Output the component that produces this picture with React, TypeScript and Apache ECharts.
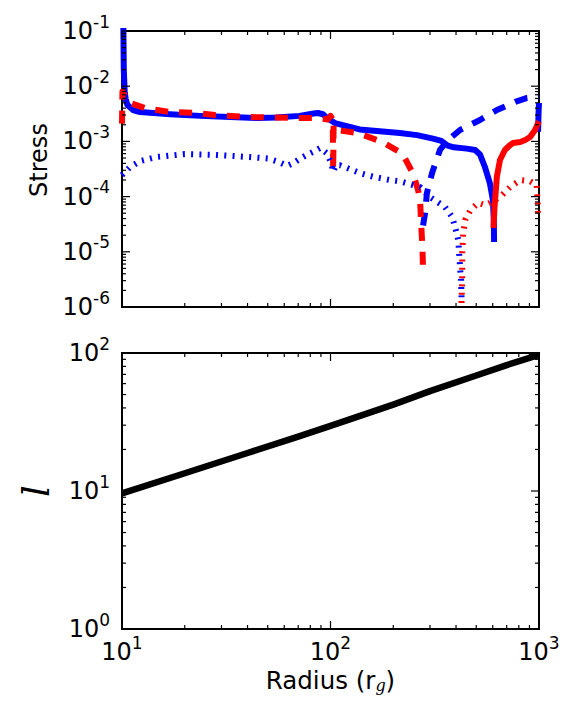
import React, { useEffect, useRef } from "react";
import * as echarts from "echarts";

// ---- data ----
const blueSolid: [number, number | null][] = [
  [10.15, 0.12], [10.2, 0.02], [10.3, 8e-3], [10.4, 6e-3], [10.6, 4.6e-3], [11.3, 3.7e-3],
  [12.2, 3.4e-3], [17, 3.1e-3], [23.7, 2.9e-3], [33, 2.76e-3], [45, 2.65e-3], [55, 2.7e-3],
  [71, 2.9e-3], [83, 3.2e-3], [87, 3.27e-3], [92, 3.1e-3], [97, 2.6e-3], [105, 2.15e-3],
  [138, 1.65e-3], [215, 1.42e-3], [260, 1.3e-3], [310, 1.12e-3], [340, 1.02e-3], [365, 8.4e-4],
  [390, 7.8e-4], [450, 7.4e-4], [494, 7.0e-4], [521, 5.8e-4], [551, 3.4e-4], [581, 1.76e-4],
  [601, 8.7e-5], [607, 3.8e-5], [609, 1.5e-5], [800, null], [990, 1.5e-3], [995, 3.3e-3], [1000, 5e-3],
];
const redSolid: [number, number][] = [
  [605, 2.7e-5], [612, 6.5e-5], [628, 2.3e-4], [650, 4.6e-4], [686, 7e-4], [727, 8.6e-4],
  [751, 9.35e-4], [813, 9.75e-4], [859, 1.06e-3], [906, 1.2e-3], [958, 1.61e-3], [980, 1.98e-3],
  [1000, 2.3e-3],
];
const blueDashed: [number, number][] = [
  [278, 3e-5], [284, 5e-5], [290, 1.16e-4], [307, 2.68e-4], [335, 7e-4], [366, 1.06e-3],
  [418, 1.61e-3], [521, 2.44e-3], [628, 3.7e-3], [769, 5.2e-3], [870, 6.1e-3], [930, 6.3e-3],
  [1000, 6.4e-3],
];
const redDashed: [number, number][] = [
  [10, 2.1e-3], [10.05, 8e-3], [10.3, 6.9e-3], [10.9, 5e-3], [12.9, 4e-3], [17, 3.4e-3],
  [22.4, 3.3e-3], [27.9, 3.0e-3], [41, 2.76e-3], [71, 2.65e-3], [87, 2.65e-3], [97, 2.5e-3],
  [100, 2.9e-3], [102.5, 2.5e-3], [103, 3e-4], [103.5, 2.0e-3], [108, 1.6e-3], [135, 1.42e-3],
  [177, 9.8e-4], [215, 6.4e-4], [227, 5e-4], [248, 2.68e-4], [263, 1.32e-4], [269, 8.7e-5],
  [272, 3.3e-5], [276, 1.22e-5], [278, 4.3e-6],
];
const blueDotted: [number, number][] = [
  [10, 2.46e-4], [10.9, 3.4e-4], [12.2, 4.4e-4], [14.5, 5.2e-4], [20, 5.9e-4], [28, 5.7e-4],
  [41, 5.2e-4], [50, 4.9e-4], [56, 4.3e-4], [62, 3.6e-4], [66, 4.0e-4], [71, 4.8e-4], [77, 5.7e-4],
  [82, 6.4e-4], [89, 7.6e-4], [96, 6.1e-4], [101, 4e-4], [103, 2.8e-4], [106, 3.7e-4], [111, 3.7e-4],
  [120, 3.3e-4], [138, 2.68e-4], [160, 2.3e-4], [192, 2.0e-4], [215, 1.9e-4], [269, 1.49e-4],
  [300, 9.8e-5], [354, 6.5e-5], [383, 4.3e-5], [396, 2.8e-5], [410, 1.64e-5], [414, 9.5e-6],
  [418, 5.3e-6], [423, 3.1e-6], [425, 1.5e-6],
];
const redDotted: [number, number][] = [
  [425, 1.18e-6], [428, 3.1e-6], [428.5, 9.5e-6], [433, 2.2e-5], [443, 3.8e-5], [469, 5.7e-5],
  [511, 7.7e-5], [551, 7e-5], [581, 7.7e-5], [650, 9.8e-5], [727, 1.49e-4], [813, 2e-4],
  [906, 1.9e-4], [975, 1.62e-4], [985, 8e-5], [990, 4.3e-5],
];
const lValues: [number, number][] = [
  [10, 9.6], [20, 13.45], [40, 18.85], [70, 24.8], [100, 29.6], [200, 42.3], [300, 52.9],
  [500, 68.7], [700, 81.7], [1000, 97],
];

// ---- axes ----
const xRange = [10, 1000];
const yTopRange = [1e-6, 1e-1];
const yBotRange = [1, 100];
const xMajorTicks = [10, 100, 1000];
const yTopMajorTicks = [1e-6, 1e-5, 1e-4, 1e-3, 1e-2, 1e-1];
const yBotMajorTicks = [1, 10, 100];
const minorMultipliers = [2, 3, 4, 5, 6, 7, 8, 9];

const minorsOf = (majors: number[]) => {
  const out: number[] = [];
  majors.slice(0, -1).forEach((m) => minorMultipliers.forEach((k) => out.push(m * k)));
  return out;
};

const BLUE = "#0000ff";
const RED = "#ff0000";
const FONT = "DejaVu Sans";

const supLabel = (v: number) => {
  const e = Math.round(Math.log10(v));
  return `{b|10}{s|${e}}`;
};
const richLabel = {
  b: { fontFamily: FONT, fontSize: 24, color: "#000", lineHeight: 36 },
  s: { fontFamily: FONT, fontSize: 17, color: "#000", lineHeight: 17, verticalAlign: "top" },
};

const tickData = (xMin: number, yMin: number, xMaj: number[], yMaj: number[]) => {
  const d: number[][] = [];
  xMaj.forEach((v) => d.push([v, yMin, 0, 8]));
  minorsOf(xMaj).forEach((v) => d.push([v, yMin, 0, 4]));
  yMaj.forEach((v) => d.push([xMin, v, 1, 8]));
  minorsOf(yMaj).forEach((v) => d.push([xMin, v, 1, 4]));
  return d;
};

const renderTick = (params: any, api: any) => {
  const cs = params.coordSys;
  const p = api.coord([api.value(0), api.value(1)]);
  const kind = api.value(2);
  const len = api.value(3);
  const style = { stroke: "#000", lineWidth: 1.2 };
  if (kind === 0) {
    return {
      type: "group",
      children: [
        { type: "line", shape: { x1: p[0], y1: cs.y + cs.height, x2: p[0], y2: cs.y + cs.height - len }, style },
        { type: "line", shape: { x1: p[0], y1: cs.y, x2: p[0], y2: cs.y + len }, style },
      ],
    };
  }
  return {
    type: "group",
    children: [
      { type: "line", shape: { x1: cs.x, y1: p[1], x2: cs.x + len, y2: p[1] }, style },
      { type: "line", shape: { x1: cs.x + cs.width, y1: p[1], x2: cs.x + cs.width - len, y2: p[1] }, style },
    ],
  };
};

const lineSeries = (data: any[], color: string, type: any, width: number, axis = 0) => ({
  type: "line",
  xAxisIndex: axis,
  yAxisIndex: axis,
  data,
  showSymbol: false,
  symbol: "none",
  connectNulls: false,
  clip: true,
  lineStyle: { color, width, type, cap: "butt", join: "round" },
});

export default function App() {
  const ref = useRef<HTMLDivElement>(null);
  useEffect(() => {
    const chart = echarts.init(ref.current!, null, { renderer: "svg" });
    const grid = (top: number) => ({
      left: 122,
      top,
      width: 417,
      height: 276,
      show: true,
      borderColor: "#000",
      borderWidth: 2,
      backgroundColor: "transparent",
      containLabel: false,
    });
    const baseAxis = {
      type: "log",
      logBase: 10,
      axisLine: { show: false },
      axisTick: { show: false },
      splitLine: { show: false },
      minorTick: { show: false },
    };
    chart.setOption({
      animation: false,
      backgroundColor: "#fff",
      grid: [grid(31), grid(353)],
      xAxis: [
        { ...baseAxis, gridIndex: 0, min: xRange[0], max: xRange[1], splitNumber: 2, axisLabel: { show: false } },
        {
          ...baseAxis,
          gridIndex: 1,
          min: xRange[0],
          max: xRange[1],
          splitNumber: 2,
          axisLabel: { formatter: supLabel, rich: richLabel, margin: 5 },
          name: "Radius (r{g|g})",
          nameLocation: "middle",
          nameGap: 39,
          nameTextStyle: {
            fontFamily: FONT,
            fontSize: 24.5,
            color: "#000",
            rich: {
              g: { fontFamily: "DejaVu Serif", fontStyle: "italic", fontSize: 16, verticalAlign: "bottom", lineHeight: 16, color: "#000" },
            },
          },
        },
      ],
      yAxis: [
        {
          ...baseAxis,
          gridIndex: 0,
          min: yTopRange[0],
          max: yTopRange[1],
          splitNumber: 5,
          axisLabel: { formatter: supLabel, rich: richLabel, margin: 12 },
          name: "Stress",
          nameLocation: "middle",
          nameGap: 71,
          nameTextStyle: { fontFamily: FONT, fontSize: 24, color: "#000", padding: [0, 0, 0, 18] },
        },
        {
          ...baseAxis,
          gridIndex: 1,
          min: yBotRange[0],
          max: yBotRange[1],
          splitNumber: 2,
          axisLabel: { formatter: supLabel, rich: richLabel, margin: 12 },
          name: "l",
          nameLocation: "middle",
          nameGap: 67,
          nameTextStyle: { fontFamily: "DejaVu Serif", fontStyle: "italic", fontSize: 37, color: "#000" },
        },
      ],
      series: [
        lineSeries(blueSolid, BLUE, "solid", 6),
        lineSeries(redSolid, RED, "solid", 6),
        lineSeries(blueDashed, BLUE, [13, 11], 6),
        lineSeries(redDashed, RED, [13, 11], 6),
        lineSeries(blueDotted, BLUE, [2, 6.3], 6),
        lineSeries(redDotted, RED, [2, 6.3], 6),
        lineSeries(lValues, "#000", "solid", 6.5, 1),
        {
          type: "custom",
          xAxisIndex: 0,
          yAxisIndex: 0,
          data: tickData(xRange[0], yTopRange[0], xMajorTicks, yTopMajorTicks),
          renderItem: renderTick,
          silent: true,
          clip: false,
          z: 5,
        },
        {
          type: "custom",
          xAxisIndex: 1,
          yAxisIndex: 1,
          data: tickData(xRange[0], yBotRange[0], xMajorTicks, yBotMajorTicks),
          renderItem: renderTick,
          silent: true,
          clip: false,
          z: 5,
        },
      ],
    });
    return () => chart.dispose();
  }, []);
  return <div ref={ref} style={{ position: "fixed", left: 0, top: 0, width: 582, height: 716 }} />;
}
